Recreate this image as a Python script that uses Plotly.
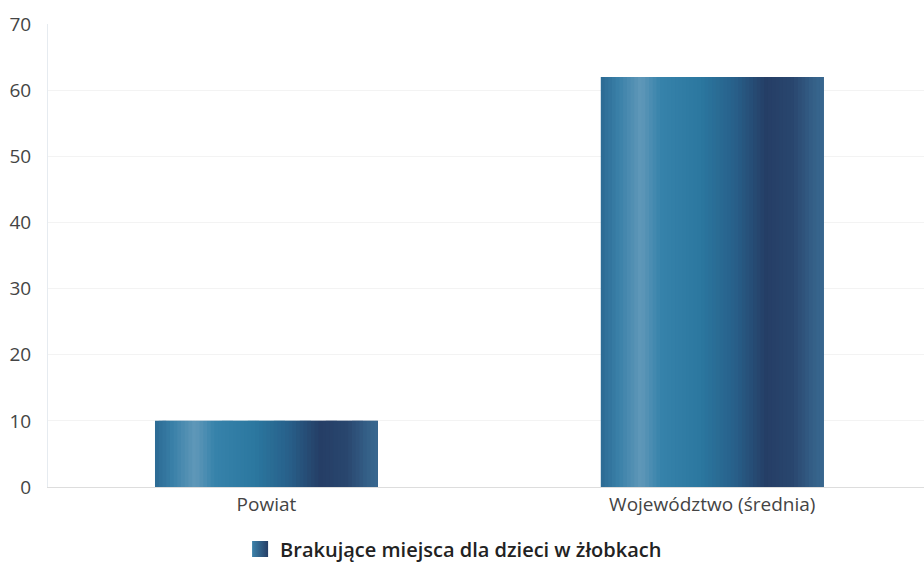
import plotly.graph_objects as go

categories = ["Powiat", "Województwo (średnia)"]
values = [10, 62]
series_name = "Brakujące miejsca dla dzieci w żłobkach"
y_ticks = [0, 10, 20, 30, 40, 50, 60, 70]

# horizontal "cylinder" shading stops across each bar (position, rgb)
stops = [
    (0.00, (43, 106, 147)),
    (0.08, (58, 128, 168)),
    (0.18, (96, 152, 185)),
    (0.27, (54, 130, 170)),
    (0.45, (43, 119, 159)),
    (0.60, (40, 96, 138)),
    (0.74, (37, 62, 102)),
    (0.86, (41, 70, 110)),
    (0.95, (52, 95, 135)),
    (1.00, (57, 104, 144)),
]


def shade(t):
    for (p0, c0), (p1, c1) in zip(stops[:-1], stops[1:]):
        if p0 <= t <= p1:
            f = (t - p0) / (p1 - p0) if p1 > p0 else 0
            c = [round(a + (b - a) * f) for a, b in zip(c0, c1)]
            return f"rgb({c[0]},{c[1]},{c[2]})"
    c = stops[-1][1]
    return f"rgb({c[0]},{c[1]},{c[2]})"


bar_width = 0.5
n_slices = 60
step = bar_width / n_slices
fig = go.Figure()
for i in range(n_slices):
    t = (i + 0.5) / n_slices
    col = shade(t)
    start = -bar_width / 2 + i * step
    w = min(3 * step, bar_width / 2 - start)
    fig.add_trace(go.Bar(
        x=categories,
        y=values,
        width=w,
        offset=start,
        marker=dict(color=col, line=dict(width=0)),
        opacity=1,
        name=series_name,
        legendgroup="g",
        showlegend=False,
        hovertemplate="%{x}: %{y}<extra></extra>",
    ))

# legend entry (square swatch with horizontal shading)
fig.add_trace(go.Scatter(
    x=[None],
    y=[None],
    mode="markers",
    name=series_name,
    legendgroup="g",
    showlegend=True,
    marker=dict(
        symbol="square",
        size=16,
        color="rgb(60,130,170)",
        gradient=dict(type="horizontal", color="rgb(37,62,102)"),
        line=dict(width=0),
    ),
    hoverinfo="skip",
))

fig.update_layout(
    width=924,
    height=562,
    margin=dict(l=48, r=0, t=24, b=75, autoexpand=False),
    paper_bgcolor="white",
    plot_bgcolor="white",
    barmode="overlay",
    font=dict(family="Open Sans, Noto Sans, sans-serif", size=19, color="#444"),
    showlegend=True,
    legend=dict(
        orientation="h",
        x=0.463,
        xanchor="center",
        y=-0.134,
        yanchor="middle",
        font=dict(size=20, color="#222", weight=600),
        itemwidth=30,
    ),
    xaxis=dict(
        type="category",
        range=[-0.49, 1.475],
        showgrid=False,
        showline=True,
        linecolor="#dddddd",
        linewidth=1,
        ticks="",
        tickfont=dict(size=19, color="#444"),
        automargin=False,
        fixedrange=True,
    ),
    yaxis=dict(
        range=[0, 70],
        tickvals=y_ticks,
        showgrid=True,
        gridcolor="#f3f3f3",
        zeroline=False,
        showline=True,
        linecolor="#e6ebf0",
        linewidth=1,
        ticks="",
        ticklabelstandoff=12,
        tickfont=dict(size=19, color="#444"),
        automargin=False,
        fixedrange=True,
    ),
)

fig.write_html(
    "out.html",
    config={"displayModeBar": False},
    post_script="document.body.style.margin='0';document.body.style.overflow='hidden';",
)
